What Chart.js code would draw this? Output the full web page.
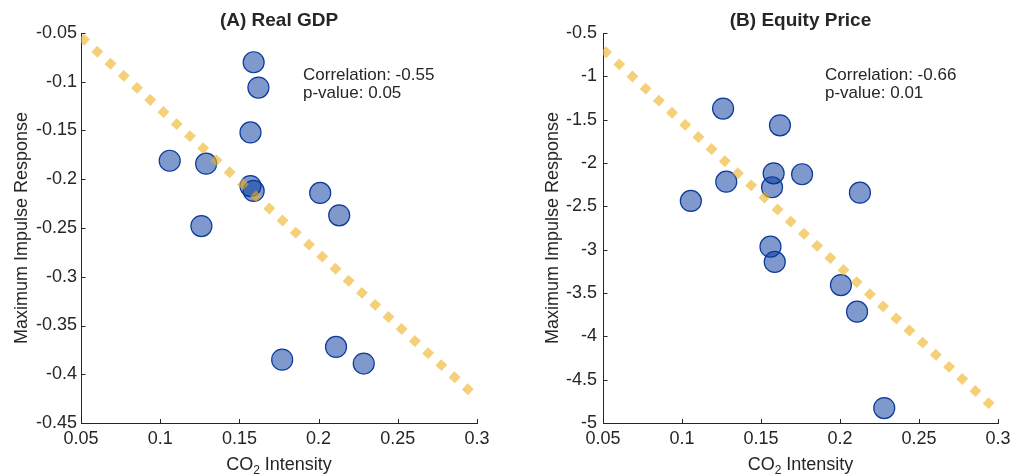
<!DOCTYPE html>
<html>
<head>
<meta charset="utf-8">
<script src="https://cdn.jsdelivr.net/npm/chart.js@4.4.1/dist/chart.umd.min.js"></script>
<style>
  html, body { margin: 0; padding: 0; background: #ffffff; }
  #wrap { position: relative; width: 1011px; height: 475px; overflow: hidden; }
  .panel { position: absolute; top: 0; height: 475px; }
  #gdpPanel { left: 0; width: 520px; }
  #equityPanel { left: 520px; width: 491px; }
</style>
</head>
<body>
<div id="wrap">
  <div class="panel" id="gdpPanel"><canvas id="gdpCanvas"></canvas></div>
  <div class="panel" id="equityPanel"><canvas id="equityCanvas"></canvas></div>
</div>
<script>
// CO2 intensity of each economy and its maximum impulse response
const gdpIntensity = [0.159, 0.162, 0.157, 0.106, 0.129, 0.157, 0.159, 0.201, 0.213, 0.126, 0.177, 0.211, 0.2285];
const gdpResponse  = [-0.080, -0.106, -0.152, -0.181, -0.184, -0.207, -0.212, -0.214, -0.237, -0.248, -0.385, -0.372, -0.389];

const equityIntensity = [0.126, 0.162, 0.158, 0.176, 0.128, 0.157, 0.2126, 0.1056, 0.156, 0.1587, 0.2006, 0.2108, 0.228];
const equityResponse  = [-1.372, -1.565, -2.119, -2.130, -2.215, -2.280, -2.342, -2.438, -2.965, -3.142, -3.408, -3.716, -4.828];

// fitted lines, given at both ends of the intensity axis
const fitIntensity = [0.05, 0.3];
const gdpFit = [-0.054, -0.424];
const equityFit = [-0.69, -4.87];

// axis ticks
const intensityTicks = [0.05, 0.1, 0.15, 0.2, 0.25, 0.3];
const gdpTicks = [-0.45, -0.4, -0.35, -0.3, -0.25, -0.2, -0.15, -0.1, -0.05];
const equityTicks = [-5, -4.5, -4, -3.5, -3, -2.5, -2, -1.5, -1, -0.5];

const FONT = '"Liberation Sans", Arial, Helvetica, sans-serif';
const INK = '#262626';

const toPoints = (xs, ys) => xs.map((x, i) => ({ x: x, y: ys[i] }));

// titles, axis titles, statistics and inward tick marks
const panelText = {
  id: 'panelText',
  afterDraw(chart, args, opts) {
    const ctx = chart.ctx;
    const ca = chart.chartArea;
    const cx = (ca.left + ca.right) / 2;
    const cy = (ca.top + ca.bottom) / 2;
    ctx.save();
    ctx.fillStyle = INK;
    ctx.strokeStyle = INK;

    // inward ticks
    ctx.lineWidth = 1;
    ctx.beginPath();
    const xs = chart.scales.x, ys = chart.scales.y;
    xs.ticks.forEach(t => {
      const px = Math.round(xs.getPixelForValue(t.value)) + 0.5;
      ctx.moveTo(px, Math.round(ca.bottom) + 0.5);
      ctx.lineTo(px, Math.round(ca.bottom) - 4);
    });
    ys.ticks.forEach(t => {
      const py = Math.round(ys.getPixelForValue(t.value)) + 0.5;
      ctx.moveTo(Math.round(ca.left) + 0.5, py);
      ctx.lineTo(Math.round(ca.left) + 4.5, py);
    });
    ctx.stroke();

    // panel title
    ctx.font = 'bold 19px ' + FONT;
    ctx.textAlign = 'center';
    ctx.textBaseline = 'alphabetic';
    ctx.fillText(opts.title, cx, 26);

    // correlation note
    ctx.font = '17px ' + FONT;
    ctx.textAlign = 'left';
    opts.note.forEach((line, i) => ctx.fillText(line, ca.left + 222, 79.5 + i * 18));

    // y axis title
    ctx.font = '18px ' + FONT;
    ctx.save();
    ctx.translate(opts.yTitleX, cy);
    ctx.rotate(-Math.PI / 2);
    ctx.textAlign = 'center';
    ctx.fillText('Maximum Impulse Response', 0, 0);
    ctx.restore();

    // x axis title with subscript
    const big = '18px ' + FONT, small = '12px ' + FONT;
    ctx.font = big;
    const w1 = ctx.measureText('CO').width;
    const w3 = ctx.measureText(' Intensity').width;
    ctx.font = small;
    const w2 = ctx.measureText('2').width;
    let x0 = cx - (w1 + w2 + w3) / 2;
    ctx.textAlign = 'left';
    ctx.font = big;
    ctx.fillText('CO', x0, 470);
    ctx.font = small;
    ctx.fillText('2', x0 + w1, 474);
    ctx.font = big;
    ctx.fillText(' Intensity', x0 + w1 + w2, 470);
    ctx.restore();
  }
};

function makePanel(canvasId, cfg) {
  return new Chart(document.getElementById(canvasId), {
    type: 'scatter',
    data: {
      datasets: [
        {
          type: 'line',
          data: toPoints(fitIntensity, cfg.fit),
          borderColor: 'rgba(237,177,32,0.6)',
          borderWidth: 8.5,
          borderDash: [8.3, 9.6],
          borderCapStyle: 'butt',
          pointRadius: 0,
          fill: false,
          tension: 0
        },
        {
          type: 'scatter',
          data: toPoints(cfg.xs, cfg.ys),
          backgroundColor: 'rgba(0,51,153,0.5)',
          borderColor: '#0a3a9c',
          borderWidth: 1.2,
          pointRadius: 10.5,
          pointHoverRadius: 10.5
        }
      ]
    },
    options: {
      responsive: true,
      maintainAspectRatio: false,
      animation: false,
      devicePixelRatio: 1,
      events: [],
      layout: { autoPadding: false, padding: { left: 0, right: cfg.padRight, top: 33, bottom: 0 } },
      plugins: {
        legend: { display: false },
        tooltip: { enabled: false },
        title: { display: false },
        panelText: { title: cfg.title, note: cfg.note, yTitleX: cfg.yTitleX }
      },
      scales: {
        x: {
          type: 'linear',
          min: 0.05,
          max: 0.3,
          afterBuildTicks: s => { s.ticks = intensityTicks.map(v => ({ value: v })); },
          afterFit: s => { s.height = 52; s.paddingLeft = 0; s.paddingRight = 0; },
          grid: { display: false, drawTicks: false },
          border: { display: true, color: INK, width: 1 },
          ticks: { padding: 5, autoSkip: false, maxRotation: 0, color: INK, font: { family: FONT, size: 18 }, callback: v => String(v) }
        },
        y: {
          type: 'linear',
          min: cfg.yTicks[0],
          max: cfg.yTicks[cfg.yTicks.length - 1],
          afterBuildTicks: s => { s.ticks = cfg.yTicks.map(v => ({ value: v })); },
          afterFit: s => { s.width = cfg.yWidth; s.paddingTop = 0; s.paddingBottom = 0; },
          grid: { display: false, drawTicks: false },
          border: { display: true, color: INK, width: 1 },
          ticks: { padding: cfg.yPad, autoSkip: false, color: INK, font: { family: FONT, size: 18 }, callback: v => String(v) }
        }
      }
    },
    plugins: [panelText]
  });
}

makePanel('gdpCanvas', {
  title: '(A) Real GDP',
  note: ['Correlation: -0.55', 'p-value: 0.05'],
  xs: gdpIntensity, ys: gdpResponse, fit: gdpFit, yTicks: gdpTicks,
  yWidth: 81, yPad: 4, padRight: 43, yTitleX: 27
});

makePanel('equityCanvas', {
  title: '(B) Equity Price',
  note: ['Correlation: -0.66', 'p-value: 0.01'],
  xs: equityIntensity, ys: equityResponse, fit: equityFit, yTicks: equityTicks,
  yWidth: 83, yPad: 6, padRight: 13, yTitleX: 38
});
</script>
</body>
</html>
